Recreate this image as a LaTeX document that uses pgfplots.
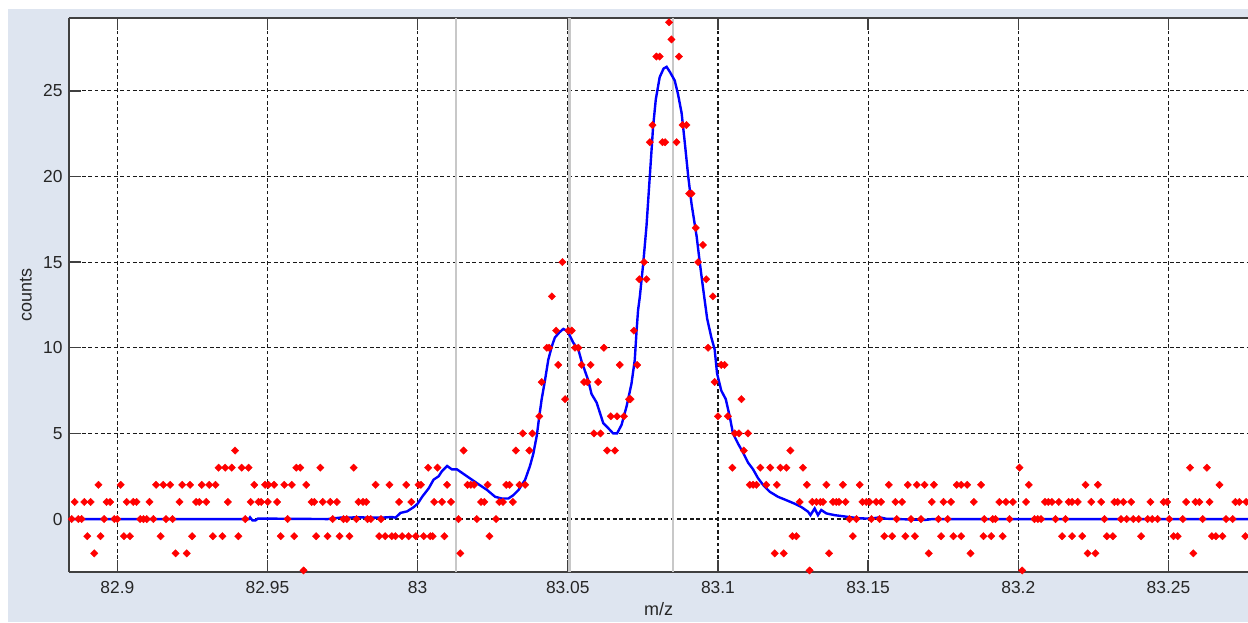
\documentclass[border=0pt]{standalone}
\usepackage{fontspec}
\setmainfont{Liberation Sans}
\usepackage{pgfplots}
\pgfplotsset{compat=1.18}
\definecolor{figbg}{RGB}{222,229,240}
\definecolor{cursorgray}{RGB}{200,200,200}

\begin{document}
\begin{tikzpicture}
% figure background (1px = 0.5pt)
\fill[white] (-34.5pt,-25pt) rectangle (589.5pt,286pt);
\fill[figbg] (-30.5pt,-25pt) rectangle (589.5pt,281.5pt);
\begin{axis}[
    scale only axis,
    width=589.5pt, height=277pt,
    xmin=82.8839, xmax=83.2765,
    ymin=-3.09, ymax=29.25,
    axis x line*=box, axis y line*=left,
    axis background/.style={fill=white},
    axis line style={black!75, line width=0.7pt},
    tick align=inside,
    major tick length=5.9pt,
    tick style={black!75, line width=0.7pt},
    xtick={82.9,82.95,83,83.05,83.1,83.15,83.2,83.25},
    xticklabels={82.9,82.95,83,83.05,83.1,83.15,83.2,83.25},
    ytick={0,5,10,15,20,25},
    /pgf/number format/assume math mode=true,
    ticklabel style={font=\fontsize{8.7}{10}\selectfont, text=black!85},
    xticklabel style={inner sep=0pt, anchor=north, yshift=-4.5pt},
    yticklabel style={inner sep=0pt, anchor=east, xshift=-3pt},
    grid=major,
    major grid style={black!90, line width=0.6pt, dash pattern=on 1.9pt off 1.3pt},
    xlabel={m/z},
    ylabel={counts},
    label style={font=\fontsize{9}{11}\selectfont, text=black!85},
    xlabel style={at={(axis description cs:0.5,-0.0794)}, anchor=base},
    ylabel style={at={(axis description cs:-0.0316,0.5)}, anchor=base},
]
% cursor lines
\addplot[cursorgray, line width=1.4pt] coordinates {(83.0128,-3.09) (83.0128,29.25)};
\addplot[cursorgray, line width=1.4pt] coordinates {(83.0505,-3.09) (83.0505,29.25)};
\addplot[cursorgray, line width=1.4pt] coordinates {(83.0850,-3.09) (83.0850,29.25)};

% measured counts
\addplot[only marks, mark=square*, mark size=1.3pt,
         mark options={rotate=45, fill=red, draw=red, line width=0.2pt}] coordinates {
% y = -3
(82.9620,-3) (83.1305,-3) (83.2013,-3)
% y = -2
(82.8923,-2) (82.9194,-2) (82.9231,-2) (83.0142,-2) (83.1189,-2) (83.1219,-2) (83.1370,-2)
(83.1702,-2) (83.1841,-2) (83.2231,-2) (83.2257,-2) (83.2583,-2)
% y = -1
(82.8900,-1) (82.8944,-1) (82.9022,-1) (82.9042,-1) (82.9144,-1) (82.9249,-1) (82.9318,-1)
(82.9350,-1) (82.9403,-1) (82.9544,-1) (82.9589,-1) (82.9662,-1) (82.9700,-1) (82.9740,-1)
(82.9773,-1) (82.9872,-1) (82.9892,-1) (82.9914,-1) (82.9926,-1) (82.9948,-1) (82.9970,-1)
(82.9994,-1) (83.0020,-1) (83.0042,-1) (83.0050,-1) (83.0089,-1) (83.0239,-1) (83.1248,-1)
(83.1261,-1) (83.1449,-1) (83.1554,-1) (83.1580,-1) (83.1624,-1) (83.1656,-1) (83.1743,-1)
(83.1784,-1) (83.1810,-1) (83.1884,-1) (83.1910,-1) (83.1948,-1) (83.2146,-1) (83.2179,-1)
(83.2213,-1) (83.2295,-1) (83.2315,-1) (83.2409,-1) (83.2517,-1) (83.2531,-1) (83.2645,-1)
(83.2658,-1) (83.2680,-1) (83.2756,-1)
% y = 0
(82.8848,0) (82.8870,0) (82.8881,0) (82.8956,0) (82.8990,0) (82.9000,0) (82.9076,0)
(82.9087,0) (82.9098,0) (82.9120,0) (82.9162,0) (82.9184,0) (82.9426,0) (82.9567,0)
(82.9717,0) (82.9753,0) (82.9764,0) (82.9796,0) (82.9833,0) (82.9844,0) (82.9878,0)
(83.0136,0) (83.0197,0) (83.0261,0) (83.1438,0) (83.1461,0) (83.1511,0) (83.1538,0)
(83.1595,0) (83.1643,0) (83.1676,0) (83.1734,0) (83.1765,0) (83.1887,0) (83.1915,0)
(83.1924,0) (83.1971,0) (83.2054,0) (83.2065,0) (83.2076,0) (83.2124,0) (83.2157,0)
(83.2287,0) (83.2342,0) (83.2361,0) (83.2383,0) (83.2401,0) (83.2431,0) (83.2446,0)
(83.2464,0) (83.2503,0) (83.2548,0) (83.2614,0) (83.2692,0) (83.2714,0)
% y = 1
(82.8858,1) (82.8890,1) (82.8911,1) (82.8964,1) (82.8976,1) (82.9031,1) (82.9053,1)
(82.9064,1) (82.9107,1) (82.9207,1) (82.9262,1) (82.9273,1) (82.9296,1) (82.9368,1)
(82.9444,1) (82.9470,1) (82.9479,1) (82.9501,1) (82.9532,1) (82.9647,1) (82.9656,1)
(82.9684,1) (82.9709,1) (82.9731,1) (82.9803,1) (82.9818,1) (82.9829,1) (82.9938,1)
(82.9979,1) (83.0055,1) (83.0081,1) (83.0111,1) (83.0211,1) (83.0222,1) (83.0272,1)
(83.0284,1) (83.0317,1) (83.1272,1) (83.1314,1) (83.1328,1) (83.1341,1) (83.1350,1)
(83.1383,1) (83.1394,1) (83.1403,1) (83.1425,1) (83.1481,1) (83.1494,1) (83.1505,1)
(83.1527,1) (83.1543,1) (83.1591,1) (83.1613,1) (83.1712,1) (83.1751,1) (83.1776,1)
(83.1852,1) (83.1937,1) (83.1959,1) (83.1982,1) (83.2026,1) (83.2089,1) (83.2100,1)
(83.2112,1) (83.2135,1) (83.2168,1) (83.2179,1) (83.2198,1) (83.2243,1) (83.2276,1)
(83.2320,1) (83.2331,1) (83.2350,1) (83.2376,1) (83.2440,1) (83.2484,1) (83.2496,1)
(83.2559,1) (83.2590,1) (83.2603,1) (83.2637,1) (83.2723,1) (83.2736,1) (83.2759,1)
% y = 2
(82.8937,2) (82.9011,2) (82.9129,2) (82.9153,2) (82.9176,2) (82.9216,2) (82.9242,2)
(82.9281,2) (82.9306,2) (82.9327,2) (82.9456,2) (82.9492,2) (82.9503,2) (82.9522,2)
(82.9556,2) (82.9581,2) (82.9629,2) (82.9860,2) (82.9906,2) (82.9962,2) (83.0003,2)
(83.0011,2) (83.0098,2) (83.0166,2) (83.0177,2) (83.0188,2) (83.0233,2) (83.0295,2)
(83.0306,2) (83.0339,2) (83.0358,2) (83.1106,2) (83.1117,2) (83.1128,2) (83.1161,2)
(83.1196,2) (83.1296,2) (83.1361,2) (83.1416,2) (83.1472,2) (83.1569,2) (83.1632,2)
(83.1662,2) (83.1688,2) (83.1719,2) (83.1795,2) (83.1810,2) (83.1830,2) (83.1876,2)
(83.2035,2) (83.2224,2) (83.2265,2) (83.2670,2)
% y = 3
(82.9337,3) (82.9359,3) (82.9381,3) (82.9414,3) (82.9437,3) (82.9596,3) (82.9609,3)
(82.9676,3) (82.9787,3) (83.0035,3) (83.0066,3) (83.1048,3) (83.1141,3) (83.1174,3)
(83.1208,3) (83.1228,3) (83.1283,3) (83.2004,3) (83.2572,3) (83.2628,3)
% y = 4 .. 11
(82.9392,4) (83.0153,4) (83.0327,4) (83.0372,4) (83.0631,4) (83.0657,4) (83.1086,4) (83.1241,4)
(83.0350,5) (83.0382,5) (83.0587,5) (83.0609,5) (83.1056,5) (83.1070,5) (83.1100,5)
(83.0405,6) (83.0643,6) (83.0664,6) (83.0687,6) (83.1000,6) (83.1033,6)
(83.0491,7) (83.0704,7) (83.0709,7) (83.1078,7)
(83.0413,8) (83.0554,8) (83.0565,8) (83.0601,8) (83.0989,8)
(83.0468,9) (83.0546,9) (83.0576,9) (83.0673,9) (83.0731,9) (83.1011,9) (83.1022,9)
(83.0430,10) (83.0438,10) (83.0524,10) (83.0535,10) (83.0620,10) (83.0967,10)
(83.0461,11) (83.0502,11) (83.0513,11) (83.0720,11)
% y = 13 .. 29
(83.0447,13) (83.0983,13)
(83.0738,14) (83.0762,14) (83.0961,14)
(83.0482,15) (83.0754,15) (83.0934,15)
(83.0950,16) (83.0926,17)
(83.0904,19) (83.0912,19)
(83.0773,22) (83.0815,22) (83.0824,22) (83.0862,22)
(83.0782,23) (83.0882,23) (83.0895,23)
(83.0795,27) (83.0806,27) (83.0870,27)
(83.0845,28) (83.0837,29)
};

% smoothed profile
\addplot[blue, line width=1.2pt] coordinates {
(82.8839,0) (82.9438,0) (82.9442,0.1) (82.9450,-0.08) (82.9460,-0.08) (82.9468,0.03)
(82.9700,0) (82.9740,0.08) (82.9800,0.1) (82.9876,0.08) (82.9915,0.12) (82.9926,0.08)
(82.9943,0.36) (82.9965,0.45) (82.9987,0.7) (83.0000,0.9) (83.0015,1.3) (83.0037,1.8)
(83.0053,2.3) (83.0070,2.5) (83.0081,2.8) (83.0098,3.1) (83.0114,2.9) (83.0131,2.9)
(83.0164,2.5) (83.0197,2.1) (83.0231,1.7) (83.0258,1.3) (83.0280,1.2) (83.0302,1.2)
(83.0319,1.4) (83.0336,1.7) (83.0358,2.3) (83.0374,3.1) (83.0385,3.8) (83.0397,4.9)
(83.0405,6.0) (83.0413,7.0) (83.0424,8.1) (83.0435,9.3) (83.0447,10.1) (83.0457,10.6)
(83.0472,10.9) (83.0485,11.1) (83.0496,11.0) (83.0507,10.7) (83.0518,10.3) (83.0535,9.9)
(83.0546,9.2) (83.0568,8.1) (83.0579,7.3) (83.0596,6.8) (83.0607,6.2) (83.0618,5.6)
(83.0635,5.3) (83.0651,5.0) (83.0664,5.0) (83.0679,5.5) (83.0696,6.6) (83.0712,7.9)
(83.0723,9.3) (83.0729,11.0) (83.0734,12.2) (83.0740,13.0) (83.0751,14.9) (83.0762,17.1)
(83.0773,20.0) (83.0784,22.9) (83.0793,24.5) (83.0806,25.8) (83.0819,26.3) (83.0829,26.4)
(83.0840,26.1) (83.0856,25.6) (83.0867,24.8) (83.0879,23.7) (83.0890,21.9) (83.0901,20.0)
(83.0912,18.4) (83.0929,16.5) (83.0940,14.9) (83.0951,13.4) (83.0964,11.7) (83.0978,10.6)
(83.0989,9.9) (83.0997,8.5) (83.1011,7.5) (83.1026,7.0) (83.1039,6.0) (83.1050,5.0)
(83.1067,4.4) (83.1083,3.9) (83.1100,3.3) (83.1117,2.9) (83.1133,2.4) (83.1150,2.0)
(83.1172,1.6) (83.1200,1.3) (83.1228,1.1) (83.1255,0.9) (83.1278,0.7) (83.1300,0.43)
(83.1308,0.23) (83.1322,0.62) (83.1333,0.23) (83.1344,0.53) (83.1361,0.33) (83.1388,0.23)
(83.1427,0.14) (83.1472,0.04) (83.1510,0.03) (83.1538,0.1) (83.1560,0.02) (83.1690,-0.05)
(83.1715,0) (83.2765,0)
};
\end{axis}
\pgfresetboundingbox
\useasboundingbox (-34.5pt,-25pt) rectangle (589.5pt,286pt);
\end{tikzpicture}
\end{document}
